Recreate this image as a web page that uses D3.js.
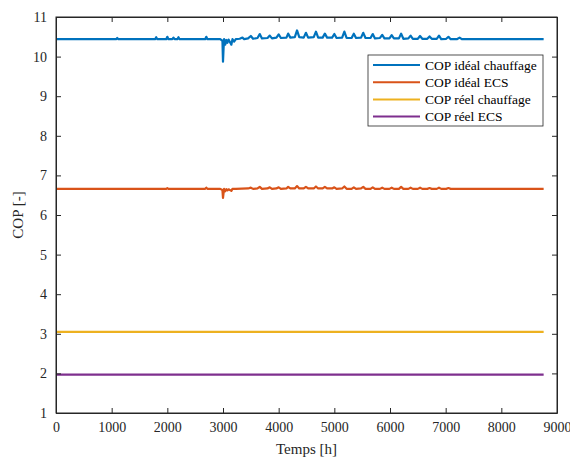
<!DOCTYPE html>
<html><head><meta charset="utf-8">
<script src="https://cdn.jsdelivr.net/npm/d3@7"></script>
<style>body{margin:0;background:#fff}svg{display:block}
svg text{font-family:"Liberation Serif","Times New Roman",serif !important;}</style>
</head><body><div id="chart"></div>
<script>
const xTicks = [0,1000,2000,3000,4000,5000,6000,7000,8000,9000];
const yTicks = [1,2,3,4,5,6,7,8,9,10,11];
const seriesNames = ["COP idéal chauffage","COP idéal ECS","COP réel chauffage","COP réel ECS"];
const seriesColors = ["#0072BD","#D95319","#EDB120","#7E2F8E"];

const copIdealChauffage = [
[0,10.44],[500,10.44],[1080,10.44],[1100,10.47],[1120,10.44],[1500,10.44],
[1780,10.44],[1800,10.49],[1820,10.44],[1980,10.44],[2000,10.50],[2020,10.44],
[2090,10.44],[2110,10.48],[2130,10.44],[2180,10.44],[2200,10.49],[2220,10.44],
[2500,10.44],[2680,10.44],[2700,10.50],[2720,10.44],
[2950,10.44],[2990,10.40],[3000,9.87],[3010,10.20],[3020,10.44],[3040,10.30],[3060,10.42],
[3080,10.35],[3100,10.43],[3150,10.30],[3170,10.44],[3200,10.38],[3230,10.44],
[3300,10.45],[3350,10.48],[3380,10.44],[3450,10.46],[3500,10.52],[3540,10.45],
[3620,10.47],[3660,10.57],[3700,10.46],[3800,10.47],[3840,10.53],[3880,10.46],
[3960,10.48],[4000,10.56],[4040,10.47],[4140,10.48],[4170,10.58],[4210,10.48],
[4290,10.49],[4330,10.66],[4370,10.49],[4450,10.48],[4490,10.60],[4530,10.48],
[4630,10.49],[4670,10.63],[4710,10.48],[4790,10.48],[4830,10.58],[4870,10.48],
[4960,10.48],[5000,10.57],[5040,10.47],[5140,10.48],[5180,10.63],[5220,10.47],
[5310,10.47],[5350,10.58],[5390,10.47],[5480,10.48],[5520,10.60],[5560,10.47],
[5650,10.47],[5690,10.57],[5730,10.46],[5820,10.47],[5860,10.55],[5900,10.46],
[5990,10.46],[6030,10.54],[6070,10.46],[6160,10.46],[6200,10.58],[6240,10.45],
[6330,10.46],[6370,10.53],[6410,10.45],[6500,10.45],[6540,10.52],[6580,10.45],
[6670,10.45],[6710,10.51],[6750,10.45],[6840,10.45],[6880,10.53],[6920,10.44],
[7010,10.45],[7050,10.50],[7090,10.44],[7200,10.44],[7250,10.48],[7290,10.44],
[7500,10.44],[8000,10.44],[8760,10.44]
];
const copIdealECS = [
[0,6.66],[1500,6.66],[1980,6.66],[2000,6.68],[2020,6.66],[2680,6.66],[2700,6.69],[2720,6.66],
[2950,6.66],[2990,6.63],[3000,6.43],[3010,6.55],[3020,6.66],[3040,6.60],[3060,6.65],
[3080,6.62],[3100,6.65],[3150,6.61],[3170,6.66],[3230,6.66],
[3450,6.67],[3500,6.69],[3540,6.66],[3620,6.67],[3660,6.71],[3700,6.66],
[3800,6.67],[3840,6.70],[3880,6.66],[3960,6.67],[4000,6.70],[4040,6.66],
[4140,6.67],[4170,6.71],[4210,6.67],[4290,6.67],[4330,6.73],[4370,6.67],
[4450,6.67],[4490,6.71],[4530,6.67],[4630,6.67],[4670,6.72],[4710,6.67],
[4790,6.67],[4830,6.71],[4870,6.67],[4960,6.67],[5000,6.70],[5040,6.66],
[5140,6.67],[5180,6.72],[5220,6.66],[5310,6.66],[5350,6.70],[5390,6.66],
[5480,6.67],[5520,6.71],[5560,6.66],[5650,6.66],[5690,6.70],[5730,6.66],
[5820,6.66],[5860,6.69],[5900,6.66],[5990,6.66],[6030,6.69],[6070,6.66],
[6160,6.66],[6200,6.71],[6240,6.66],[6330,6.66],[6370,6.69],[6410,6.66],
[6500,6.66],[6540,6.69],[6580,6.66],[6670,6.66],[6710,6.68],[6750,6.66],
[6840,6.66],[6880,6.69],[6920,6.66],[7010,6.66],[7050,6.68],[7090,6.66],
[7500,6.66],[8760,6.66]
];
const copReelChauffage = [[0,3.05],[8760,3.05]];
const copReelECS = [[0,1.97],[8760,1.97]];

const W=570,H=459;
const m={l:56,r:557,t:17,b:413};
const svg=d3.select("#chart").append("svg").attr("width",W).attr("height",H);
const x=d3.scaleLinear().domain([0,9000]).range([m.l,m.r]);
const y=d3.scaleLinear().domain([1,11]).range([m.b,m.t]);
const axCol="#262626";

const line=d3.line().x(d=>x(d[0])).y(d=>y(d[1]));
const allSeries=[copIdealChauffage,copIdealECS,copReelChauffage,copReelECS];
allSeries.forEach((s,i)=>{
  svg.append("path").datum(s).attr("d",line).attr("fill","none")
    .attr("stroke",seriesColors[i]).attr("stroke-width",2.2).attr("stroke-linejoin","round");
});

const fmt=d3.format("d");
const xa=d3.axisBottom(x).tickValues(xTicks).tickFormat(fmt).tickSizeInner(-5).tickSizeOuter(0).tickPadding(9);
const ya=d3.axisLeft(y).tickValues(yTicks).tickFormat(fmt).tickSizeInner(-5).tickSizeOuter(0).tickPadding(9);
svg.append("g").attr("transform",`translate(0,${m.b})`).call(xa);
svg.append("g").attr("transform",`translate(${m.l},0)`).call(ya);
svg.append("g").attr("transform",`translate(0,${m.t})`)
  .call(d3.axisTop(x).tickValues(xTicks).tickSizeInner(-5).tickSizeOuter(0).tickFormat(""));
svg.append("g").attr("transform",`translate(${m.r},0)`)
  .call(d3.axisRight(y).tickValues(yTicks).tickSizeInner(-5).tickSizeOuter(0).tickFormat(""));
svg.selectAll(".domain").attr("stroke",axCol);
svg.selectAll(".tick line").attr("stroke",axCol);
svg.selectAll(".tick text").attr("fill",axCol).style("font-size","14px");
svg.append("rect").attr("x",m.l).attr("y",m.t).attr("width",m.r-m.l).attr("height",m.b-m.t)
  .attr("fill","none").attr("stroke",axCol).attr("stroke-width",1);

svg.append("text").attr("x",(m.l+m.r)/2).attr("y",454).attr("text-anchor","middle")
  .attr("fill",axCol).style("font-size","15px").text("Temps [h]");
svg.append("text").attr("transform",`translate(23,${(m.t+m.b)/2}) rotate(-90)`)
  .attr("text-anchor","middle").attr("fill",axCol).style("font-size","15px").text("COP [-]");

const lg=svg.append("g");
lg.append("rect").attr("x",368).attr("y",55).attr("width",175).attr("height",71)
  .attr("fill","#fff").attr("stroke",axCol).attr("stroke-width",0.8);
seriesNames.forEach((n,i)=>{
  const yy=65+i*17.2;
  lg.append("line").attr("x1",373).attr("x2",420).attr("y1",yy).attr("y2",yy)
    .attr("stroke",seriesColors[i]).attr("stroke-width",2);
  lg.append("text").attr("x",425).attr("y",yy+4.5).attr("fill","#000")
    .style("font-size","13.5px").text(n);
});
</script></body></html>
